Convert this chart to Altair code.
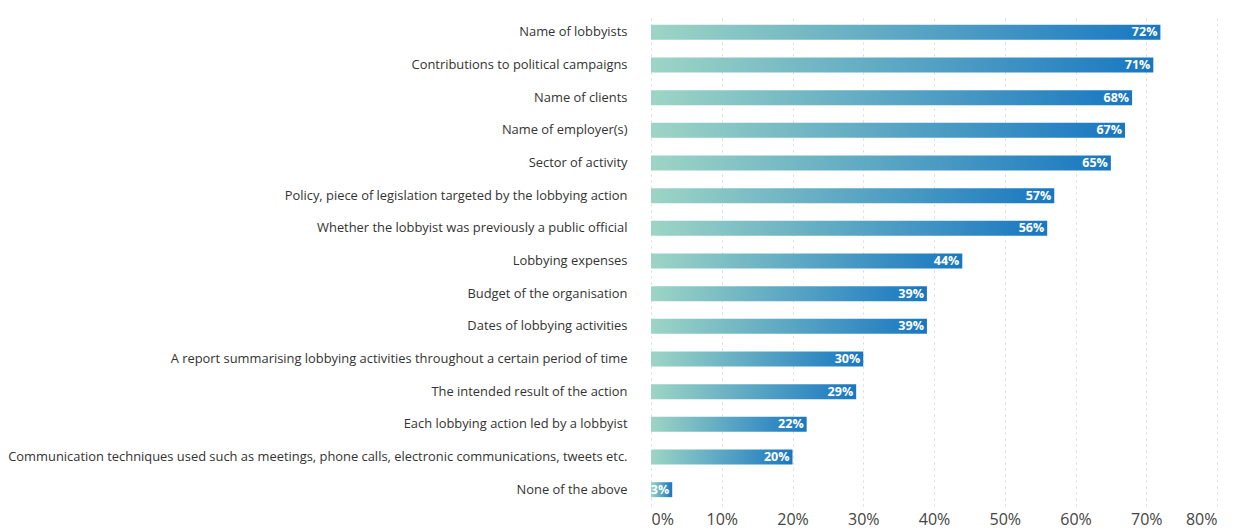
import altair as alt
import pandas as pd

categories = [
    "Name of lobbyists",
    "Contributions to political campaigns",
    "Name of clients",
    "Name of employer(s)",
    "Sector of activity",
    "Policy, piece of legislation targeted by the lobbying action",
    "Whether the lobbyist was previously a public official",
    "Lobbying expenses",
    "Budget of the organisation",
    "Dates of lobbying activities",
    "A report summarising lobbying activities throughout a certain period of time",
    "The intended result of the action",
    "Each lobbying action led by a lobbyist",
    "Communication techniques used such as meetings, phone calls, electronic communications, tweets etc.",
    "None of the above",
]
values = [72, 71, 68, 67, 65, 57, 56, 44, 39, 39, 30, 29, 22, 20, 3]
x_ticks = [0, 10, 20, 30, 40, 50, 60, 70, 80]

df = pd.DataFrame({"category": categories, "value": values})
df["label"] = df["value"].astype(str) + "%"

FONT = "Open Sans"

y_enc = alt.Y(
    "category:N",
    sort=categories,
    title=None,
    scale=alt.Scale(paddingInner=0.54, paddingOuter=0.27),
    axis=alt.Axis(
        domain=False, ticks=False, grid=False,
        labelFont=FONT, labelFontSize=12.9, labelColor="#333333",
        labelPadding=24, labelLimit=700,
    ),
)
x_enc = alt.X(
    "value:Q",
    title=None,
    scale=alt.Scale(domain=[0, 80], nice=False),
    axis=alt.Axis(
        values=x_ticks, labelExpr="datum.value + '%'",
        domain=False, ticks=False,
        grid=True, gridColor="#d9d9d9", gridDash=[2, 4], gridWidth=1,
        labelFont=FONT, labelFontSize=16, labelColor="#444444",
        labelPadding=5,
    ),
)

gradient = alt.Gradient(
    gradient="linear",
    stops=[
        alt.GradientStop(color="#9dd5c5", offset=0),
        alt.GradientStop(color="#1877c2", offset=1),
    ],
    x1=0, x2=1, y1=0, y2=0,
)

bars = alt.Chart(df).mark_bar(color=gradient, size=15).encode(x=x_enc, y=y_enc)

text = alt.Chart(df).mark_text(
    align="right", baseline="middle", dx=-3, color="white",
    font=FONT, fontSize=12.5, fontWeight="bold",
).encode(x="value:Q", y=alt.Y("category:N", sort=categories), text="label:N")

chart = (
    alt.layer(bars, text)
    .properties(
        width=566, height=490,
        autosize=alt.AutoSizeParams(type="none"),
        padding={"left": 651, "top": 16, "right": 28, "bottom": 26},
    )
    .configure_view(stroke=None)
)

chart.save("out.html", embed_options={"renderer": "svg", "actions": False})
